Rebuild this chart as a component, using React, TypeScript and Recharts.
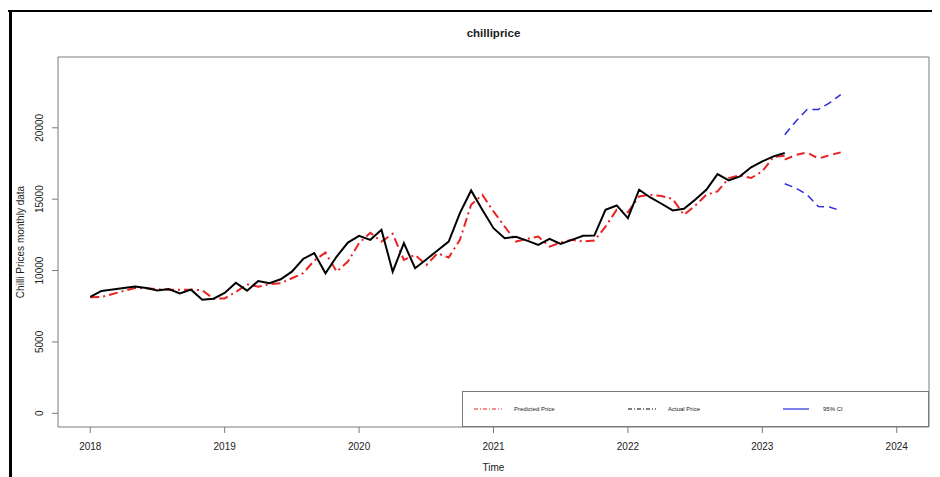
import { LineChart, Line, XAxis, YAxis, ReferenceArea, Label } from 'recharts';

const startYear = 2018;
const yearTicks = [2018, 2019, 2020, 2021, 2022, 2023, 2024];
const priceTicks = [0, 5000, 10000, 15000, 20000];
const xDomain = [2017.76, 2024.24];
const yDomain = [-960, 24960];

// monthly actual price, Jan 2018 - Mar 2023
const actualPrice = [
  8150, 8570, 8670, 8780, 8880, 8780, 8600, 8710, 8390, 8660, 7960, 8030,
  8430, 9150, 8590, 9270, 9110, 9390, 9920, 10810, 11220, 9810, 10980, 11960,
  12430, 12150, 12850, 9920, 11920, 10160, 10780, 11410, 12030, 14020, 15610, 14260,
  12970, 12270, 12360, 12100, 11800, 12220, 11870, 12150, 12430, 12450, 14260, 14560,
  13670, 15660, 15120, 14680, 14210, 14330, 14960, 15660, 16760, 16310, 16600, 17230,
  17650, 18000, 18240,
];

// fitted values, same months
const predictedPrice = [
  8130, 8150, 8360, 8570, 8780, 8760, 8690, 8660, 8660, 8660, 8620, 8030,
  8050, 8500, 9040, 8870, 9040, 9110, 9460, 9810, 10700, 11260, 9920, 10630,
  11920, 12640, 12030, 12570, 10740, 11100, 10390, 11210, 10910, 12150, 14610, 15310,
  14140, 13080, 12030, 12220, 12380, 11680, 11960, 12150, 12030, 12100, 13080, 14260,
  14090, 15190, 15310, 15220, 15010, 13900, 14540, 15310, 15540, 16480, 16670, 16480,
  16950, 17960, 18050,
];

// forecast Mar - Aug 2023
const forecastStart = 62;
const forecastPrice = [17770, 18100, 18280, 17840, 18080, 18280];
const upperCI = [19520, 20460, 21280, 21280, 21750, 22330];
const lowerCI = [16080, 15780, 15310, 14490, 14450, 14190];

const data = Array.from({ length: forecastStart + forecastPrice.length }, (_, i) => {
  const f = i - forecastStart;
  return {
    time: startYear + i / 12,
    actual: actualPrice[i],
    predicted: predictedPrice[i],
    forecast: f >= 0 ? forecastPrice[f] : undefined,
    upper: f >= 0 ? upperCI[f] : undefined,
    lower: f >= 0 ? lowerCI[f] : undefined,
  };
});

const RED = '#e82424';
const BLUE = '#2c2cdc';
const GREY = '#7a7a7a';
const TEXT = '#222';

const YTick = ({ x, y, payload }: any) => (
  <text
    x={x - 10}
    y={y}
    transform={`rotate(-90, ${x - 10}, ${y})`}
    textAnchor="middle"
    dominantBaseline="central"
    fontSize={10}
    fill={TEXT}
  >
    {payload.value}
  </text>
);

const XTick = ({ x, y, payload }: any) => (
  <text x={x} y={y + 11} textAnchor="middle" dominantBaseline="central" fontSize={10} fill={TEXT}>
    {payload.value}
  </text>
);

function ChartLegend() {
  return (
    <div
      style={{
        position: 'absolute',
        left: 454,
        top: 383,
        width: 467,
        height: 36,
        boxSizing: 'border-box',
        border: `1px solid ${GREY}`,
        background: '#fff',
      }}
    >
      <svg width={465} height={34} style={{ display: 'block' }}>
        <line x1={11} x2={39} y1={17} y2={17} stroke={RED} strokeWidth={1.2} strokeDasharray="4 2 1 2" />
        <text x={51} y={17} dominantBaseline="central" fontSize={6} fill={TEXT}>Predicted Price</text>
        <line x1={165} x2={193} y1={17} y2={17} stroke="#000" strokeWidth={1.2} strokeDasharray="4 2 1 2" />
        <text x={205} y={17} dominantBaseline="central" fontSize={6} fill={TEXT}>Actual Price</text>
        <line x1={320} x2={346} y1={17} y2={17} stroke={BLUE} strokeWidth={1.2} />
        <text x={360} y={17} dominantBaseline="central" fontSize={6} fill={TEXT}>95% CI</text>
      </svg>
    </div>
  );
}

export default function App() {
  return (
    <div style={{ position: 'relative', width: 932, height: 469, fontFamily: '"Liberation Sans", Arial, sans-serif' }}>
      <LineChart width={932} height={469} data={data} margin={{ top: 49, right: 11, bottom: 0, left: 0 }}>
        <XAxis
          dataKey="time"
          type="number"
          domain={xDomain}
          ticks={yearTicks}
          allowDataOverflow
          height={50}
          axisLine={false}
          tickSize={6}
          tickLine={{ stroke: GREY }}
          tick={<XTick />}
        >
          <Label
            content={({ viewBox }: any) => (
              <text
                x={viewBox.x + viewBox.width / 2}
                y={viewBox.y + 40}
                textAnchor="middle"
                dominantBaseline="central"
                fontSize={10}
                fill={TEXT}
              >
                Time
              </text>
            )}
          />
        </XAxis>
        <YAxis
          type="number"
          domain={yDomain}
          ticks={priceTicks}
          allowDataOverflow
          width={50}
          axisLine={false}
          tickSize={6}
          tickLine={{ stroke: GREY }}
          tick={<YTick />}
        >
          <Label
            content={({ viewBox }: any) => {
              const cy = viewBox.y + viewBox.height / 2;
              return (
                <text
                  x={12}
                  y={cy}
                  transform={`rotate(-90, 12, ${cy})`}
                  textAnchor="middle"
                  dominantBaseline="central"
                  fontSize={10}
                  fill={TEXT}
                >
                  Chilli Prices monthly data
                </text>
              );
            }}
          />
        </YAxis>
        <ReferenceArea
          x1={xDomain[0]}
          x2={xDomain[1]}
          y1={yDomain[0]}
          y2={yDomain[1]}
          fill="none"
          stroke={GREY}
          strokeWidth={1}
          ifOverflow="visible"
        />
        <Line dataKey="predicted" stroke={RED} strokeWidth={2} strokeDasharray="9 4 2 4" dot={false} isAnimationActive={false} />
        <Line dataKey="actual" stroke="#000" strokeWidth={2} dot={false} isAnimationActive={false} />
        <Line dataKey="forecast" stroke={RED} strokeWidth={2} strokeDasharray="8 5" dot={false} isAnimationActive={false} />
        <Line dataKey="upper" stroke={BLUE} strokeWidth={1.5} strokeDasharray="8 5" dot={false} isAnimationActive={false} />
        <Line dataKey="lower" stroke={BLUE} strokeWidth={1.5} strokeDasharray="8 5" dot={false} isAnimationActive={false} />
      </LineChart>
      <div
        style={{
          position: 'absolute',
          left: 50,
          top: 19,
          width: 871,
          textAlign: 'center',
          fontSize: 11.5,
          fontWeight: 'bold',
          color: TEXT,
        }}
      >
        chilliprice
      </div>
      <ChartLegend />
      <div style={{ position: 'absolute', left: 0, top: 2, width: 932, height: 2, background: '#000' }} />
      <div style={{ position: 'absolute', left: 1, top: 2, width: 3, height: 467, background: '#000' }} />
    </div>
  );
}
